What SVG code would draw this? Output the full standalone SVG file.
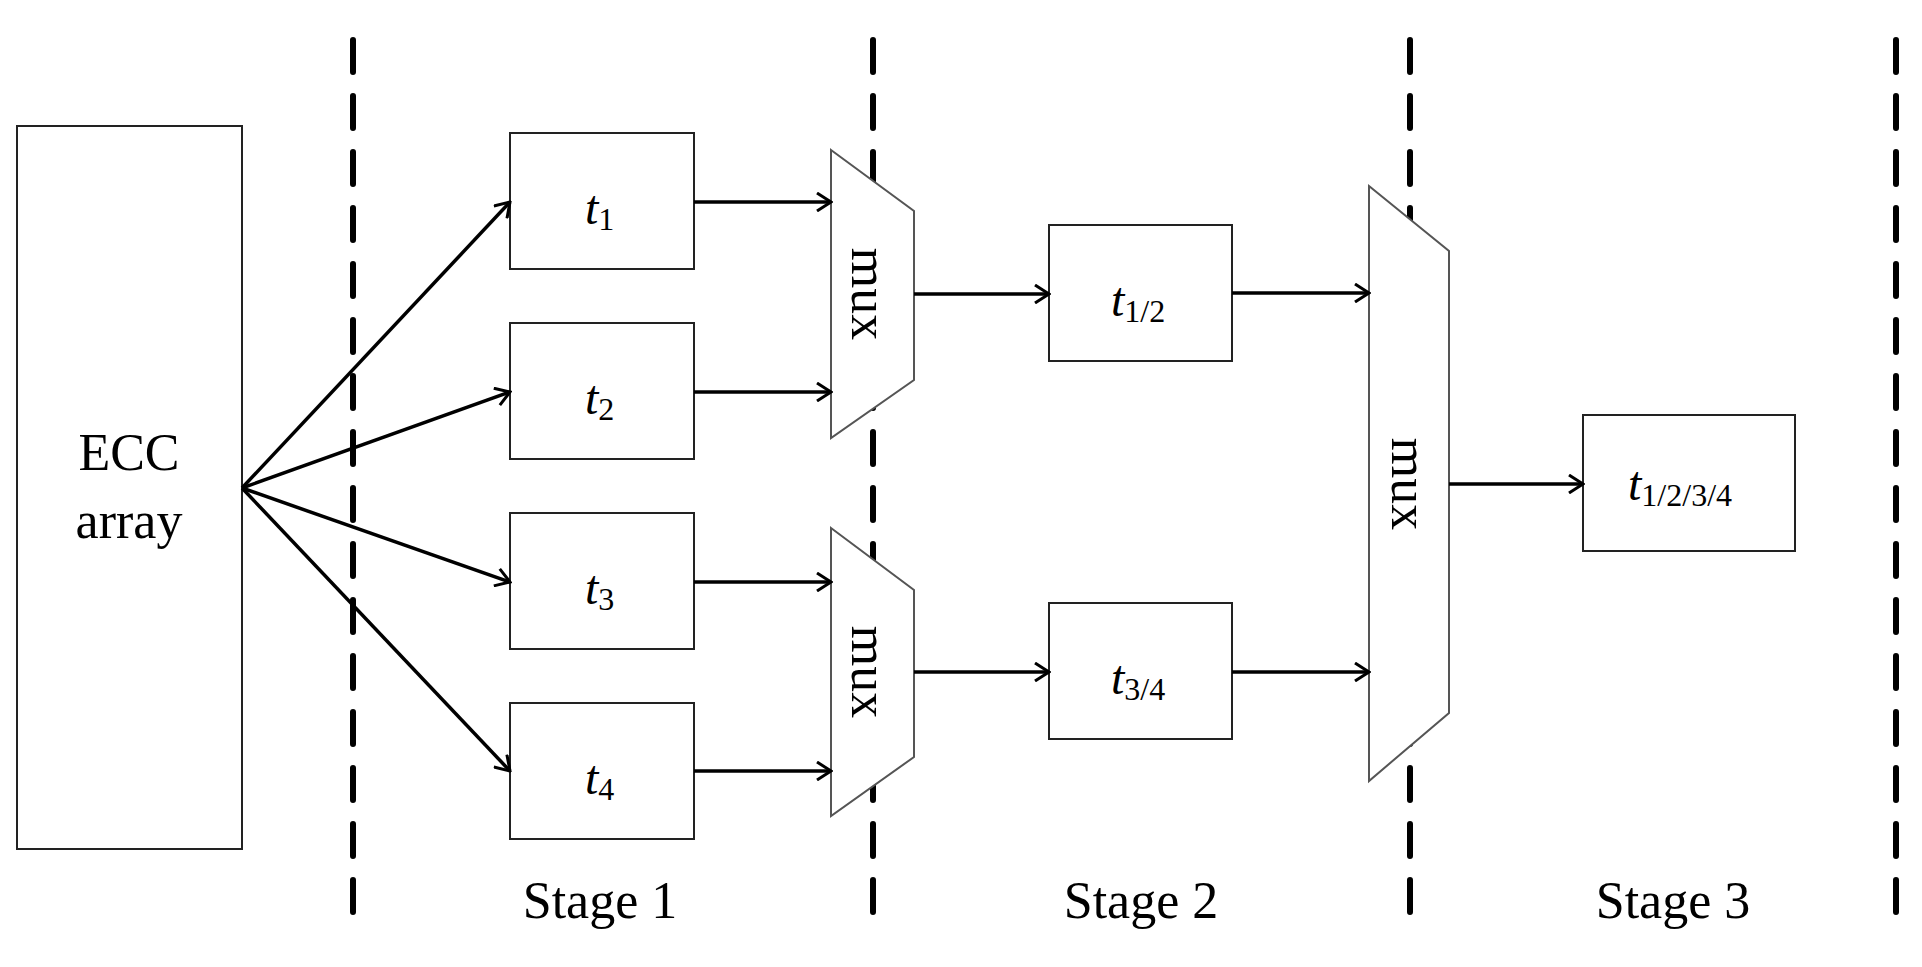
<svg xmlns="http://www.w3.org/2000/svg" width="1922" height="967" viewBox="0 0 1922 967">
<defs>
<marker id="ah" viewBox="0 0 20 20" refX="18" refY="10" markerWidth="20" markerHeight="20" markerUnits="userSpaceOnUse" orient="auto">
<path d="M4 1 L18 10 L4 19" fill="none" stroke="#000" stroke-width="3"/>
</marker>
<style>
.box{fill:#fff;stroke:#222;stroke-width:2}
.mux{fill:#fff;stroke:#555;stroke-width:2}
.dash{stroke:#000;stroke-width:6;stroke-dasharray:32 24;stroke-linecap:round}
.c{fill:none;stroke:#000;stroke-width:3.5;marker-end:url(#ah)}
text{font-family:"Liberation Serif",serif;fill:#000}
.lbl{font-size:52px;text-anchor:middle}
.t{font-size:48px;font-style:italic}
.sub{font-size:32px;font-style:normal}
</style>
</defs>
<rect width="1922" height="967" fill="#fff"/>
<g id="dividers">
<line class="dash" x1="353" y1="40" x2="353" y2="932"/>
<line class="dash" x1="873" y1="40" x2="873" y2="932"/>
<line class="dash" x1="1410" y1="40" x2="1410" y2="932"/>
<line class="dash" x1="1896" y1="40" x2="1896" y2="932"/>
</g>
<g id="ecc"><rect class="box" x="17" y="126" width="225" height="723"/>
<text class="lbl" x="129" y="470">ECC</text><text class="lbl" x="129" y="538">array</text></g>
<g id="t1"><rect class="box" x="510" y="133" width="184" height="136"/><text class="t" x="585" y="224">t<tspan class="sub" dy="6">1</tspan></text></g>
<g id="t2"><rect class="box" x="510" y="323" width="184" height="136"/><text class="t" x="585" y="414">t<tspan class="sub" dy="6">2</tspan></text></g>
<g id="t3"><rect class="box" x="510" y="513" width="184" height="136"/><text class="t" x="585" y="604">t<tspan class="sub" dy="6">3</tspan></text></g>
<g id="t4"><rect class="box" x="510" y="703" width="184" height="136"/><text class="t" x="585" y="794">t<tspan class="sub" dy="6">4</tspan></text></g>
<g id="mux1"><polygon class="mux" points="831,150 914,211 914,380 831,438"/>
<text class="lbl" font-size="48" transform="translate(852,294) rotate(90)" y="0">mux</text></g>
<g id="mux2"><polygon class="mux" points="831,528 914,590 914,757 831,816"/>
<text class="lbl" font-size="48" transform="translate(852,672) rotate(90)" y="0">mux</text></g>
<g id="t12"><rect class="box" x="1049" y="225" width="183" height="136"/><text class="t" x="1111" y="316">t<tspan class="sub" dy="6">1/2</tspan></text></g>
<g id="t34"><rect class="box" x="1049" y="603" width="183" height="136"/><text class="t" x="1111" y="694">t<tspan class="sub" dy="6">3/4</tspan></text></g>
<g id="mux3"><polygon class="mux" points="1369,186 1449,251 1449,713 1369,781"/>
<text class="lbl" font-size="48" transform="translate(1392,484) rotate(90)" y="0">mux</text></g>
<g id="t1234"><rect class="box" x="1583" y="415" width="212" height="136"/><text class="t" x="1628" y="500">t<tspan class="sub" dy="6">1/2/3/4</tspan></text></g>
<g id="connectors">
<line class="c" x1="242" y1="488" x2="510" y2="202"/>
<line class="c" x1="242" y1="488" x2="510" y2="392"/>
<line class="c" x1="242" y1="488" x2="510" y2="582"/>
<line class="c" x1="242" y1="488" x2="510" y2="771"/>
<line class="c" x1="694" y1="202" x2="831" y2="202"/>
<line class="c" x1="694" y1="392" x2="831" y2="392"/>
<line class="c" x1="694" y1="582" x2="831" y2="582"/>
<line class="c" x1="694" y1="771" x2="831" y2="771"/>
<line class="c" x1="914" y1="294" x2="1049" y2="294"/>
<line class="c" x1="914" y1="672" x2="1049" y2="672"/>
<line class="c" x1="1232" y1="293" x2="1369" y2="293"/>
<line class="c" x1="1232" y1="672" x2="1369" y2="672"/>
<line class="c" x1="1449" y1="484" x2="1583" y2="484"/>
</g>
<g id="labels">
<text class="lbl" x="600" y="918">Stage 1</text>
<text class="lbl" x="1141" y="918">Stage 2</text>
<text class="lbl" x="1673" y="918">Stage 3</text>
</g>
</svg>
